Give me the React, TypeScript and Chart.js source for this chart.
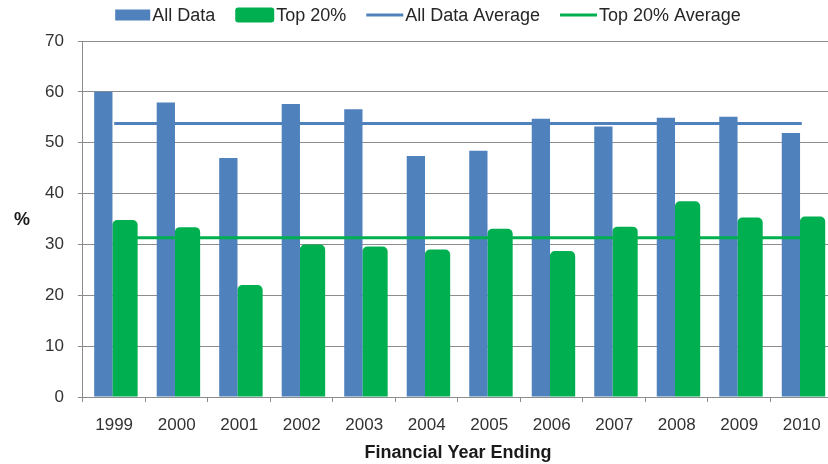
import React, { useEffect, useRef } from "react";
import { Chart, registerables } from "chart.js";

Chart.register(...registerables);

const years = ["1999", "2000", "2001", "2002", "2003", "2004", "2005", "2006", "2007", "2008", "2009", "2010"];
const allData = [60.0, 57.9, 47.0, 57.6, 56.6, 47.4, 48.4, 54.7, 53.2, 54.9, 55.1, 51.9];
const top20 = [34.8, 33.4, 22.0, 30.0, 29.6, 29.0, 33.1, 28.7, 33.5, 38.5, 35.3, 35.5];
const allDataAverage = [53.8, 53.8, 53.8, 53.8, 53.8, 53.8, 53.8, 53.8, 53.8, 53.8, 53.8, 53.8];
const top20Average = [31.3, 31.3, 31.3, 31.3, 31.3, 31.3, 31.3, 31.3, 31.3, 31.3, 31.3, 31.3];
const yTicks = [0, 10, 20, 30, 40, 50, 60, 70];

const BLUE = "#4F81BD";
const GREEN = "#00B050";
const FONT = '"Liberation Sans", Arial, sans-serif';

const swatches = [
  { kind: "rect", w: 35, h: 11, r: 0 },
  { kind: "rect", w: 39, h: 15, r: 3 },
  { kind: "line", w: 37, h: 3, r: 0 },
  { kind: "line", w: 37, h: 3, r: 0 },
];

const legendPlugin = {
  id: "customLegend",
  afterDraw(chart: any) {
    const ctx = chart.ctx as CanvasRenderingContext2D;
    ctx.save();
    ctx.font = `18px ${FONT}`;
    ctx.textBaseline = "middle";
    const gapText = 2;
    const gapItem = 20;
    const ds = chart.data.datasets;
    const widths = ds.map((d: any, i: number) => swatches[i].w + gapText + ctx.measureText(d.label).width);
    const total = widths.reduce((a: number, b: number) => a + b, 0) + gapItem * (ds.length - 1);
    let x = 428 - total / 2;
    const cy = 15;
    ds.forEach((d: any, i: number) => {
      const s = swatches[i];
      const color = d.type === "line" ? d.borderColor : d.backgroundColor;
      ctx.fillStyle = color;
      ctx.beginPath();
      if (s.r > 0) {
        (ctx as any).roundRect(x, cy - s.h / 2, s.w, s.h, s.r);
      } else {
        ctx.rect(x, cy - s.h / 2, s.w, s.h);
      }
      ctx.fill();
      ctx.fillStyle = "#262626";
      ctx.fillText(d.label, x + s.w + gapText, cy + 1);
      x += widths[i] + gapItem;
    });
    // y axis title "%"
    const ca = chart.chartArea;
    ctx.font = `bold 18px ${FONT}`;
    ctx.textAlign = "center";
    ctx.fillStyle = "#1a1a1a";
    ctx.fillText("%", ca.left - 61, (ca.top + ca.bottom) / 2 + 1);
    ctx.restore();
  },
};

export default function App() {
  const ref = useRef<HTMLCanvasElement>(null);
  useEffect(() => {
    if (!ref.current) return;
    const chart = new Chart(ref.current, {
      type: "bar",
      data: {
        labels: years,
        datasets: [
          {
            type: "bar",
            label: "All Data",
            data: allData,
            backgroundColor: BLUE,
            categoryPercentage: 0.6935,
            barPercentage: 0.843,
            order: 2,
          },
          {
            type: "bar",
            label: "Top 20%",
            data: top20,
            backgroundColor: GREEN,
            categoryPercentage: 0.6935,
            barPercentage: 1.166,
            borderRadius: 5,
            borderSkipped: "start",
            order: 2,
          },
          {
            type: "line",
            label: "All Data Average",
            data: allDataAverage,
            borderColor: BLUE,
            backgroundColor: BLUE,
            borderWidth: 3,
            pointRadius: 0,
            fill: false,
            order: 1,
          },
          {
            type: "line",
            label: "Top 20% Average",
            data: top20Average,
            borderColor: GREEN,
            backgroundColor: GREEN,
            borderWidth: 3,
            pointRadius: 0,
            fill: false,
            order: 1,
          },
        ] as any,
      },
      options: {
        responsive: false,
        animation: false,
        devicePixelRatio: 1,
        layout: { padding: { top: 41, left: 31, right: 7, bottom: 0 } },
        plugins: {
          legend: { display: false },
          tooltip: { enabled: false },
        },
        scales: {
          x: {
            offset: true,
            grid: {
              offset: true,
              drawOnChartArea: false,
              drawTicks: true,
              tickLength: 5,
              color: "#8c8c8c",
            },
            border: { color: "#8c8c8c", width: 1 },
            ticks: {
              color: "#333333",
              font: { family: FONT, size: 17 },
              padding: 13,
              maxRotation: 0,
              autoSkip: false,
            },
            title: {
              display: true,
              text: "Financial Year Ending",
              color: "#1a1a1a",
              font: { family: FONT, size: 18, weight: "bold" },
              padding: { top: -6, bottom: 0 },
            },
          },
          y: {
            min: 0,
            max: 70,
            afterBuildTicks: (scale: any) => {
              scale.ticks = yTicks.map((v) => ({ value: v }));
            },
            grid: {
              color: "#8c8c8c",
              tickLength: 5,
              drawTicks: true,
            },
            border: { color: "#8c8c8c", width: 1 },
            ticks: {
              color: "#333333",
              font: { family: FONT, size: 17 },
              padding: 14,
            },
          },
        },
      },
      plugins: [legendPlugin],
    });
    return () => chart.destroy();
  }, []);
  return (
    <div
      style={{
        position: "fixed",
        left: 0,
        top: 0,
        width: 828,
        height: 464,
        overflow: "hidden",
        background: "#ffffff",
      }}
    >
      <canvas ref={ref} width={840} height={464} style={{ display: "block", width: 840, height: 464 }} />
    </div>
  );
}
